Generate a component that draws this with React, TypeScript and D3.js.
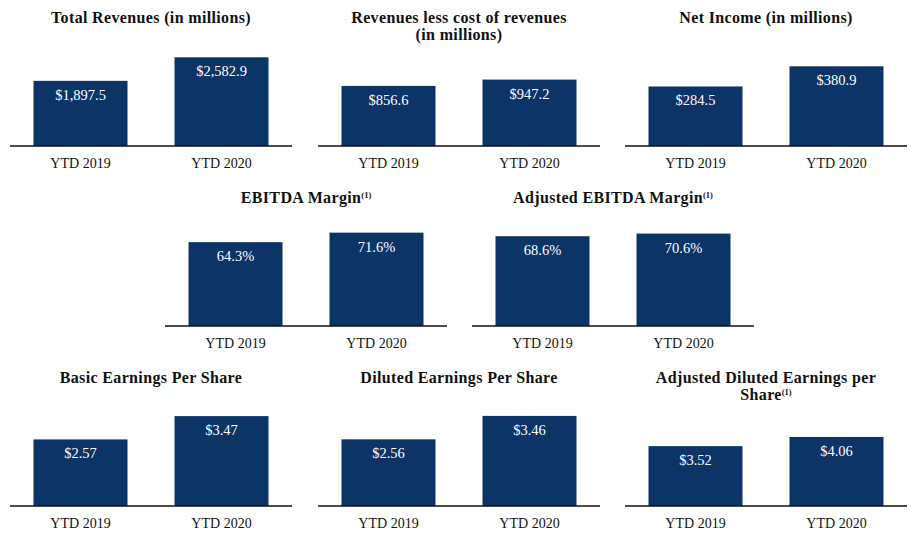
import React from "react";
import * as d3 from "d3";

const categories = ["YTD 2019", "YTD 2020"];

const titles = [
  ["Total Revenues (in millions)"],
  ["Revenues less cost of revenues", "(in millions)"],
  ["Net Income (in millions)"],
  ["EBITDA Margin"],
  ["Adjusted EBITDA Margin"],
  ["Basic Earnings Per Share"],
  ["Diluted Earnings Per Share"],
  ["Adjusted Diluted Earnings per", "Share"],
];
const footnoted = [false, false, false, true, true, false, false, true];

const values2019 = [1897.5, 856.6, 284.5, 64.3, 68.6, 2.57, 2.56, 3.52];
const values2020 = [2582.9, 947.2, 380.9, 71.6, 70.6, 3.47, 3.46, 4.06];
const kinds = ["mil", "mil", "mil", "pct", "pct", "eps", "eps", "eps"];

// layout: left of baseline, baseline y, domain max
const layout = [
  { x: 10, y: 146, max: 2912 },
  { x: 318, y: 146, max: 1426 },
  { x: 625, y: 146, max: 478 },
  { x: 165, y: 326, max: 76.7 },
  { x: 472, y: 326, max: 76.4 },
  { x: 10, y: 506, max: 3.86 },
  { x: 318, y: 506, max: 3.84 },
  { x: 625, y: 506, max: 5.88 },
];

const PANEL_W = 282;
const PLOT_H = 100;
const BAR = "#0c3466";
const FONT = "'Liberation Serif', 'DejaVu Serif', serif";

const fmt = (kind: string, v: number) => {
  if (kind === "mil") return d3.format("$,.1f")(v);
  if (kind === "pct") return d3.format(".1f")(v) + "%";
  return d3.format("$.2f")(v);
};

function Panel({ i }: { i: number }) {
  const L = layout[i];
  const x = d3
    .scaleBand<string>()
    .domain(categories)
    .range([0, PANEL_W])
    .paddingInner(1 / 3)
    .paddingOuter(1 / 6);
  const y = d3.scaleLinear().domain([0, L.max]).range([0, -PLOT_H]);
  const vals = [values2019[i], values2020[i]];
  const t = titles[i];
  return (
    <g transform={`translate(${L.x},${L.y})`}>
      {vals.map((v, j) => {
        const bx = x(categories[j])!;
        const top = y(v);
        return (
          <g key={j}>
            <rect x={bx} y={top} width={x.bandwidth()} height={-top} fill={BAR} />
            <text
              x={bx + x.bandwidth() / 2}
              y={top + 19}
              textAnchor="middle"
              fill="#ffffff"
              fontSize={14.5}
              fontFamily={FONT}
            >
              {fmt(kinds[i], v)}
            </text>
            <text
              x={bx + x.bandwidth() / 2}
              y={22}
              textAnchor="middle"
              fill="#111"
              fontSize={14}
              fontFamily={FONT}
            >
              {categories[j]}
            </text>
          </g>
        );
      })}
      <line x1={0} x2={PANEL_W} y1={0} y2={0} stroke="#111" strokeWidth={1.5} />
      <text
        x={PANEL_W / 2}
        y={-123}
        textAnchor="middle"
        fontSize={16}
        fontWeight="bold"
        fontFamily={FONT}
        letterSpacing={0.35}
        fill="#111"
      >
        {t.map((line, k) => (
          <tspan key={k} x={PANEL_W / 2} dy={k === 0 ? 0 : 17}>
            {line}
            {footnoted[i] && k === t.length - 1 ? (
              <tspan fontSize={8.5} dy={-5} letterSpacing={0}>
                {"(1)"}
              </tspan>
            ) : null}
          </tspan>
        ))}
      </text>
    </g>
  );
}

export default function App() {
  return (
    <svg
      width={921}
      height={537}
      style={{ position: "absolute", left: 0, top: 0, background: "#fff" }}
    >
      <rect width={921} height={537} fill="#fff" />
      {layout.map((_, i) => (
        <Panel key={i} i={i} />
      ))}
    </svg>
  );
}
